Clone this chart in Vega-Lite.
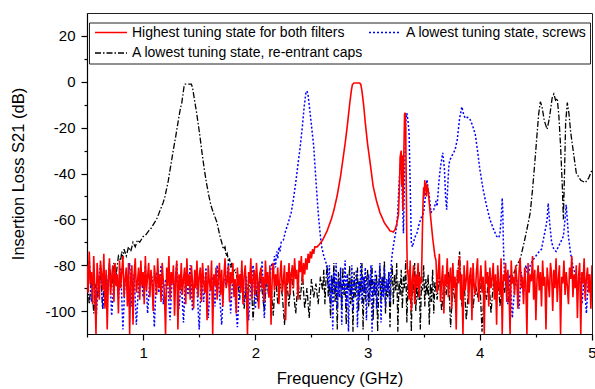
{
"$schema":"https://vega.github.io/schema/vega-lite/v6.json",
"width":505,"height":321,
"autosize":{"type":"none"},
"padding":{"left":87,"top":13,"right":3,"bottom":55},
"config":{"font":"Liberation Sans","view":{"stroke":"#222","strokeWidth":1}},
"data":{"values":[
{"s":"a","f":0.50,"v":-80},{"s":"a","f":0.51,"v":-92},{"s":"a","f":0.52,"v":-74},{"s":"a","f":0.53,"v":-88},{"s":"a","f":0.54,"v":-83},{"s":"a","f":0.55,"v":-97},{"s":"a","f":0.56,"v":-76},{"s":"a","f":0.57,"v":-90},{"s":"a","f":0.58,"v":-110},{"s":"a","f":0.59,"v":-79},
{"s":"a","f":0.60,"v":-86},{"s":"a","f":0.61,"v":-95},{"s":"a","f":0.62,"v":-78},{"s":"a","f":0.63,"v":-84},{"s":"a","f":0.64,"v":-91},{"s":"a","f":0.65,"v":-75},{"s":"a","f":0.66,"v":-99},{"s":"a","f":0.67,"v":-82},{"s":"a","f":0.68,"v":-108},{"s":"a","f":0.69,"v":-87},
{"s":"a","f":0.70,"v":-77},{"s":"a","f":0.71,"v":-93},{"s":"a","f":0.72,"v":-85},{"s":"a","f":0.73,"v":-80},{"s":"a","f":0.74,"v":-96},{"s":"a","f":0.75,"v":-79},{"s":"a","f":0.76,"v":-89},{"s":"a","f":0.77,"v":-84},{"s":"a","f":0.78,"v":-101},{"s":"a","f":0.79,"v":-78},
{"s":"a","f":0.80,"v":-90},{"s":"a","f":0.81,"v":-83},{"s":"a","f":0.82,"v":-76},{"s":"a","f":0.83,"v":-94},{"s":"a","f":0.84,"v":-86},{"s":"a","f":0.85,"v":-81},{"s":"a","f":0.86,"v":-98},{"s":"a","f":0.87,"v":-79},{"s":"a","f":0.88,"v":-110},{"s":"a","f":0.89,"v":-85},
{"s":"a","f":0.90,"v":-80},{"s":"a","f":0.91,"v":-106},{"s":"a","f":0.92,"v":-84},{"s":"a","f":0.93,"v":-77},{"s":"a","f":0.94,"v":-92},{"s":"a","f":0.95,"v":-87},{"s":"a","f":0.96,"v":-81},{"s":"a","f":0.97,"v":-95},{"s":"a","f":0.98,"v":-78},{"s":"a","f":0.99,"v":-89},
{"s":"a","f":1.00,"v":-83},{"s":"a","f":1.01,"v":-97},{"s":"a","f":1.02,"v":-76},{"s":"a","f":1.03,"v":-91},{"s":"a","f":1.04,"v":-85},{"s":"a","f":1.05,"v":-79},{"s":"a","f":1.06,"v":-94},{"s":"a","f":1.07,"v":-82},{"s":"a","f":1.08,"v":-88},{"s":"a","f":1.09,"v":-100},
{"s":"a","f":1.10,"v":-80},{"s":"a","f":1.11,"v":-86},{"s":"a","f":1.12,"v":-93},{"s":"a","f":1.13,"v":-77},{"s":"a","f":1.14,"v":-90},{"s":"a","f":1.15,"v":-84},{"s":"a","f":1.16,"v":-96},{"s":"a","f":1.17,"v":-79},{"s":"a","f":1.18,"v":-87},{"s":"a","f":1.19,"v":-92},
{"s":"a","f":1.20,"v":-110},{"s":"a","f":1.21,"v":-81},{"s":"a","f":1.22,"v":-89},{"s":"a","f":1.23,"v":-76},{"s":"a","f":1.24,"v":-95},{"s":"a","f":1.25,"v":-83},{"s":"a","f":1.26,"v":-88},{"s":"a","f":1.27,"v":-80},{"s":"a","f":1.28,"v":-102},{"s":"a","f":1.29,"v":-85},
{"s":"a","f":1.30,"v":-78},{"s":"a","f":1.31,"v":-108},{"s":"a","f":1.32,"v":-84},{"s":"a","f":1.33,"v":-91},{"s":"a","f":1.34,"v":-79},{"s":"a","f":1.35,"v":-93},{"s":"a","f":1.36,"v":-86},{"s":"a","f":1.37,"v":-81},{"s":"a","f":1.38,"v":-97},{"s":"a","f":1.39,"v":-77},
{"s":"a","f":1.40,"v":-89},{"s":"a","f":1.41,"v":-84},{"s":"a","f":1.42,"v":-95},{"s":"a","f":1.43,"v":-80},{"s":"a","f":1.44,"v":-87},{"s":"a","f":1.45,"v":-99},{"s":"a","f":1.46,"v":-82},{"s":"a","f":1.47,"v":-90},{"s":"a","f":1.48,"v":-78},{"s":"a","f":1.49,"v":-94},
{"s":"a","f":1.50,"v":-85},{"s":"a","f":1.51,"v":-81},{"s":"a","f":1.52,"v":-96},{"s":"a","f":1.53,"v":-79},{"s":"a","f":1.54,"v":-88},{"s":"a","f":1.55,"v":-92},{"s":"a","f":1.56,"v":-83},{"s":"a","f":1.57,"v":-104},{"s":"a","f":1.58,"v":-80},{"s":"a","f":1.59,"v":-87},
{"s":"a","f":1.60,"v":-91},{"s":"a","f":1.61,"v":-78},{"s":"a","f":1.62,"v":-110},{"s":"a","f":1.63,"v":-84},{"s":"a","f":1.64,"v":-89},{"s":"a","f":1.65,"v":-81},{"s":"a","f":1.66,"v":-95},{"s":"a","f":1.67,"v":-86},{"s":"a","f":1.68,"v":-79},{"s":"a","f":1.69,"v":-93},
{"s":"a","f":1.70,"v":-82},{"s":"a","f":1.71,"v":-98},{"s":"a","f":1.72,"v":-85},{"s":"a","f":1.73,"v":-77},{"s":"a","f":1.74,"v":-90},{"s":"a","f":1.75,"v":-87},{"s":"a","f":1.76,"v":-80},{"s":"a","f":1.77,"v":-96},{"s":"a","f":1.78,"v":-83},{"s":"a","f":1.79,"v":-88},
{"s":"a","f":1.80,"v":-79},{"s":"a","f":1.81,"v":-94},{"s":"a","f":1.82,"v":-86},{"s":"a","f":1.83,"v":-101},{"s":"a","f":1.84,"v":-81},{"s":"a","f":1.85,"v":-89},{"s":"a","f":1.86,"v":-84},{"s":"a","f":1.87,"v":-92},{"s":"a","f":1.88,"v":-78},{"s":"a","f":1.89,"v":-97},
{"s":"a","f":1.90,"v":-85},{"s":"a","f":1.91,"v":-80},{"s":"a","f":1.92,"v":-91},{"s":"a","f":1.93,"v":-110},{"s":"a","f":1.94,"v":-83},{"s":"a","f":1.95,"v":-88},{"s":"a","f":1.96,"v":-77},{"s":"a","f":1.97,"v":-95},{"s":"a","f":1.98,"v":-86},{"s":"a","f":1.99,"v":-82},
{"s":"a","f":2.00,"v":-93},{"s":"a","f":2.01,"v":-79},{"s":"a","f":2.02,"v":-87},{"s":"a","f":2.03,"v":-99},{"s":"a","f":2.04,"v":-84},{"s":"a","f":2.05,"v":-81},{"s":"a","f":2.06,"v":-90},{"s":"a","f":2.07,"v":-85},{"s":"a","f":2.08,"v":-96},{"s":"a","f":2.09,"v":-78},
{"s":"a","f":2.10,"v":-88},{"s":"a","f":2.11,"v":-83},{"s":"a","f":2.12,"v":-94},{"s":"a","f":2.13,"v":-80},{"s":"a","f":2.14,"v":-106},{"s":"a","f":2.15,"v":-86},{"s":"a","f":2.16,"v":-79},{"s":"a","f":2.17,"v":-91},{"s":"a","f":2.18,"v":-84},{"s":"a","f":2.19,"v":-89},
{"s":"a","f":2.20,"v":-81},{"s":"a","f":2.21,"v":-97},{"s":"a","f":2.22,"v":-85},{"s":"a","f":2.23,"v":-78},{"s":"a","f":2.24,"v":-92},{"s":"a","f":2.25,"v":-87},{"s":"a","f":2.26,"v":-80},{"s":"a","f":2.27,"v":-104},{"s":"a","f":2.28,"v":-83},{"s":"a","f":2.29,"v":-88},
{"s":"a","f":2.30,"v":-79},{"s":"a","f":2.31,"v":-93},{"s":"a","f":2.32,"v":-84},{"s":"a","f":2.33,"v":-80},{"s":"a","f":2.34,"v":-90},{"s":"a","f":2.35,"v":-77},{"s":"a","f":2.36,"v":-86},{"s":"a","f":2.37,"v":-82},{"s":"a","f":2.38,"v":-95},{"s":"a","f":2.39,"v":-78},
{"s":"a","f":2.40,"v":-83},{"s":"a","f":2.41,"v":-76},{"s":"a","f":2.42,"v":-88},{"s":"a","f":2.43,"v":-79},{"s":"a","f":2.44,"v":-84},
{"s":"a","f":2.45,"v":-77},{"s":"a","f":2.46,"v":-82},{"s":"a","f":2.47,"v":-75},{"s":"a","f":2.48,"v":-79},{"s":"a","f":2.49,"v":-74},{"s":"a","f":2.50,"v":-77},{"s":"a","f":2.51,"v":-73},{"s":"a","f":2.52,"v":-75},{"s":"a","f":2.53,"v":-72},{"s":"a","f":2.55,"v":-72},{"s":"a","f":2.57,"v":-71},{"s":"a","f":2.60,"v":-69},{"s":"a","f":2.64,"v":-65},{"s":"a","f":2.68,"v":-59.5},{"s":"a","f":2.70,"v":-56},{"s":"a","f":2.73,"v":-49.5},{"s":"a","f":2.76,"v":-41},{"s":"a","f":2.78,"v":-34},{"s":"a","f":2.80,"v":-27},{"s":"a","f":2.82,"v":-19},{"s":"a","f":2.84,"v":-10},{"s":"a","f":2.855,"v":-4},{"s":"a","f":2.865,"v":-1.2},{"s":"a","f":2.88,"v":-0.5},{"s":"a","f":2.93,"v":-0.5},{"s":"a","f":2.94,"v":-1.2},{"s":"a","f":2.95,"v":-4},{"s":"a","f":2.965,"v":-10},{"s":"a","f":2.98,"v":-18},{"s":"a","f":3.00,"v":-27},{"s":"a","f":3.03,"v":-38},{"s":"a","f":3.05,"v":-45.6},{"s":"a","f":3.08,"v":-52},{"s":"a","f":3.11,"v":-57},{"s":"a","f":3.15,"v":-61.5},{"s":"a","f":3.20,"v":-65},{"s":"a","f":3.23,"v":-65.5},{"s":"a","f":3.245,"v":-64.5},{"s":"a","f":3.26,"v":-62},{"s":"a","f":3.275,"v":-58},{"s":"a","f":3.285,"v":-45},{"s":"a","f":3.29,"v":-33},{"s":"a","f":3.30,"v":-30},{"s":"a","f":3.305,"v":-45},{"s":"a","f":3.31,"v":-32},{"s":"a","f":3.315,"v":-56},{"s":"a","f":3.32,"v":-40},{"s":"a","f":3.33,"v":-14},{"s":"a","f":3.335,"v":-13.5},{"s":"a","f":3.34,"v":-20},{"s":"a","f":3.345,"v":-45},{"s":"a","f":3.35,"v":-70},{"s":"a","f":3.355,"v":-84},
{"s":"a","f":3.36,"v":-82},{"s":"a","f":3.37,"v":-95},{"s":"a","f":3.38,"v":-78},{"s":"a","f":3.39,"v":-100},{"s":"a","f":3.40,"v":-86},{"s":"a","f":3.41,"v":-80},{"s":"a","f":3.42,"v":-97},{"s":"a","f":3.43,"v":-84},{"s":"a","f":3.44,"v":-90},{"s":"a","f":3.45,"v":-79},{"s":"a","f":3.46,"v":-94},{"s":"a","f":3.47,"v":-85},{"s":"a","f":3.48,"v":-88},{"s":"a","f":3.485,"v":-75},{"s":"a","f":3.49,"v":-62},{"s":"a","f":3.495,"v":-52},{"s":"a","f":3.50,"v":-46},{"s":"a","f":3.505,"v":-50},{"s":"a","f":3.51,"v":-43},{"s":"a","f":3.515,"v":-47},{"s":"a","f":3.52,"v":-44},{"s":"a","f":3.525,"v":-50},{"s":"a","f":3.53,"v":-45},{"s":"a","f":3.54,"v":-47},{"s":"a","f":3.55,"v":-53},{"s":"a","f":3.56,"v":-58},{"s":"a","f":3.57,"v":-63},{"s":"a","f":3.58,"v":-68},{"s":"a","f":3.59,"v":-72},{"s":"a","f":3.60,"v":-76},
{"s":"a","f":3.61,"v":-78},{"s":"a","f":3.62,"v":-92},{"s":"a","f":3.63,"v":-83},{"s":"a","f":3.64,"v":-75},{"s":"a","f":3.65,"v":-96},{"s":"a","f":3.66,"v":-87},{"s":"a","f":3.67,"v":-80},{"s":"a","f":3.68,"v":-101},{"s":"a","f":3.69,"v":-84},{"s":"a","f":3.70,"v":-89},
{"s":"a","f":3.71,"v":-77},{"s":"a","f":3.72,"v":-94},{"s":"a","f":3.73,"v":-86},{"s":"a","f":3.74,"v":-81},{"s":"a","f":3.75,"v":-99},{"s":"a","f":3.76,"v":-79},{"s":"a","f":3.77,"v":-90},{"s":"a","f":3.78,"v":-85},{"s":"a","f":3.79,"v":-108},{"s":"a","f":3.80,"v":-82},
{"s":"a","f":3.81,"v":-88},{"s":"a","f":3.82,"v":-76},{"s":"a","f":3.83,"v":-95},{"s":"a","f":3.84,"v":-84},{"s":"a","f":3.85,"v":-110},{"s":"a","f":3.86,"v":-80},{"s":"a","f":3.87,"v":-91},{"s":"a","f":3.88,"v":-86},{"s":"a","f":3.89,"v":-78},{"s":"a","f":3.90,"v":-97},
{"s":"a","f":3.91,"v":-85},{"s":"a","f":3.92,"v":-81},{"s":"a","f":3.93,"v":-104},{"s":"a","f":3.94,"v":-79},{"s":"a","f":3.95,"v":-89},{"s":"a","f":3.96,"v":-93},{"s":"a","f":3.97,"v":-83},{"s":"a","f":3.98,"v":-77},{"s":"a","f":3.99,"v":-96},{"s":"a","f":4.00,"v":-87},
{"s":"a","f":4.01,"v":-80},{"s":"a","f":4.02,"v":-92},{"s":"a","f":4.03,"v":-85},{"s":"a","f":4.04,"v":-110},{"s":"a","f":4.05,"v":-78},{"s":"a","f":4.06,"v":-88},{"s":"a","f":4.07,"v":-83},{"s":"a","f":4.08,"v":-98},{"s":"a","f":4.09,"v":-81},{"s":"a","f":4.10,"v":-90},
{"s":"a","f":4.11,"v":-86},{"s":"a","f":4.12,"v":-79},{"s":"a","f":4.13,"v":-95},{"s":"a","f":4.14,"v":-84},{"s":"a","f":4.15,"v":-106},{"s":"a","f":4.16,"v":-80},{"s":"a","f":4.17,"v":-89},{"s":"a","f":4.18,"v":-93},{"s":"a","f":4.19,"v":-77},{"s":"a","f":4.20,"v":-110},
{"s":"a","f":4.21,"v":-84},{"s":"a","f":4.22,"v":-87},{"s":"a","f":4.23,"v":-79},{"s":"a","f":4.24,"v":-96},{"s":"a","f":4.25,"v":-82},{"s":"a","f":4.26,"v":-91},{"s":"a","f":4.27,"v":-110},{"s":"a","f":4.28,"v":-78},{"s":"a","f":4.29,"v":-88},{"s":"a","f":4.30,"v":-85},
{"s":"a","f":4.31,"v":-93},{"s":"a","f":4.32,"v":-80},{"s":"a","f":4.33,"v":-86},{"s":"a","f":4.34,"v":-99},{"s":"a","f":4.35,"v":-83},{"s":"a","f":4.36,"v":-77},{"s":"a","f":4.37,"v":-90},{"s":"a","f":4.38,"v":-85},{"s":"a","f":4.39,"v":-97},{"s":"a","f":4.40,"v":-81},
{"s":"a","f":4.41,"v":-88},{"s":"a","f":4.42,"v":-110},{"s":"a","f":4.43,"v":-79},{"s":"a","f":4.44,"v":-92},{"s":"a","f":4.45,"v":-84},{"s":"a","f":4.46,"v":-87},{"s":"a","f":4.47,"v":-76},{"s":"a","f":4.48,"v":-95},{"s":"a","f":4.49,"v":-82},{"s":"a","f":4.50,"v":-104},
{"s":"a","f":4.51,"v":-86},{"s":"a","f":4.52,"v":-80},{"s":"a","f":4.53,"v":-91},{"s":"a","f":4.54,"v":-83},{"s":"a","f":4.55,"v":-98},{"s":"a","f":4.56,"v":-78},{"s":"a","f":4.57,"v":-89},{"s":"a","f":4.58,"v":-85},{"s":"a","f":4.59,"v":-108},{"s":"a","f":4.60,"v":-81},
{"s":"a","f":4.61,"v":-87},{"s":"a","f":4.62,"v":-94},{"s":"a","f":4.63,"v":-79},{"s":"a","f":4.64,"v":-84},{"s":"a","f":4.65,"v":-100},{"s":"a","f":4.66,"v":-82},{"s":"a","f":4.67,"v":-90},{"s":"a","f":4.68,"v":-77},{"s":"a","f":4.69,"v":-96},{"s":"a","f":4.70,"v":-86},
{"s":"a","f":4.71,"v":-80},{"s":"a","f":4.72,"v":-110},{"s":"a","f":4.73,"v":-85},{"s":"a","f":4.74,"v":-88},{"s":"a","f":4.75,"v":-78},{"s":"a","f":4.76,"v":-93},{"s":"a","f":4.77,"v":-83},{"s":"a","f":4.78,"v":-89},{"s":"a","f":4.79,"v":-97},{"s":"a","f":4.80,"v":-81},
{"s":"a","f":4.81,"v":-86},{"s":"a","f":4.82,"v":-76},{"s":"a","f":4.83,"v":-94},{"s":"a","f":4.84,"v":-84},{"s":"a","f":4.85,"v":-90},{"s":"a","f":4.86,"v":-80},{"s":"a","f":4.87,"v":-103},{"s":"a","f":4.88,"v":-85},{"s":"a","f":4.89,"v":-79},{"s":"a","f":4.90,"v":-110},
{"s":"a","f":4.91,"v":-83},{"s":"a","f":4.92,"v":-88},{"s":"a","f":4.93,"v":-77},{"s":"a","f":4.94,"v":-95},{"s":"a","f":4.95,"v":-86},{"s":"a","f":4.96,"v":-81},{"s":"a","f":4.97,"v":-92},{"s":"a","f":4.98,"v":-84},{"s":"a","f":4.99,"v":-99},{"s":"a","f":5.00,"v":-80},

{"s":"c","f":0.50,"v":-84},{"s":"c","f":0.52,"v":-97},{"s":"c","f":0.54,"v":-86},{"s":"c","f":0.56,"v":-101},{"s":"c","f":0.58,"v":-88},{"s":"c","f":0.60,"v":-94},{"s":"c","f":0.62,"v":-83},{"s":"c","f":0.64,"v":-99},{"s":"c","f":0.66,"v":-85},{"s":"c","f":0.68,"v":-92},{"s":"c","f":0.70,"v":-80},{"s":"c","f":0.72,"v":-90},{"s":"c","f":0.74,"v":-79},{"s":"c","f":0.76,"v":-84},{"s":"c","f":0.78,"v":-76},
{"s":"c","f":0.80,"v":-78},{"s":"c","f":0.81,"v":-74},{"s":"c","f":0.82,"v":-77},{"s":"c","f":0.83,"v":-73},{"s":"c","f":0.85,"v":-76},{"s":"c","f":0.87,"v":-72},{"s":"c","f":0.89,"v":-74},{"s":"c","f":0.91,"v":-70},{"s":"c","f":0.93,"v":-72},{"s":"c","f":0.95,"v":-69},{"s":"c","f":0.97,"v":-70},{"s":"c","f":1.00,"v":-67.5},{"s":"c","f":1.02,"v":-67},{"s":"c","f":1.05,"v":-65},{"s":"c","f":1.07,"v":-64},{"s":"c","f":1.10,"v":-61.5},{"s":"c","f":1.12,"v":-60},{"s":"c","f":1.14,"v":-57.5},{"s":"c","f":1.16,"v":-55},{"s":"c","f":1.18,"v":-52.5},{"s":"c","f":1.195,"v":-50},{"s":"c","f":1.21,"v":-46.5},{"s":"c","f":1.225,"v":-43},{"s":"c","f":1.24,"v":-38.4},{"s":"c","f":1.255,"v":-34},{"s":"c","f":1.27,"v":-29.5},{"s":"c","f":1.29,"v":-24},{"s":"c","f":1.305,"v":-19.5},{"s":"c","f":1.32,"v":-15},{"s":"c","f":1.335,"v":-11},{"s":"c","f":1.344,"v":-9.4},{"s":"c","f":1.355,"v":-5.5},{"s":"c","f":1.365,"v":-2},{"s":"c","f":1.375,"v":-1},{"s":"c","f":1.43,"v":-1},{"s":"c","f":1.44,"v":-2.5},{"s":"c","f":1.45,"v":-5.5},{"s":"c","f":1.463,"v":-9.4},{"s":"c","f":1.475,"v":-13},{"s":"c","f":1.49,"v":-18},{"s":"c","f":1.507,"v":-24},{"s":"c","f":1.525,"v":-31},{"s":"c","f":1.546,"v":-38.4},{"s":"c","f":1.566,"v":-44.5},{"s":"c","f":1.587,"v":-50},{"s":"c","f":1.605,"v":-54},{"s":"c","f":1.625,"v":-57},{"s":"c","f":1.656,"v":-61},{"s":"c","f":1.67,"v":-64},{"s":"c","f":1.685,"v":-67.4},{"s":"c","f":1.70,"v":-70},{"s":"c","f":1.715,"v":-73},{"s":"c","f":1.73,"v":-72},{"s":"c","f":1.74,"v":-76},{"s":"c","f":1.75,"v":-75},{"s":"c","f":1.76,"v":-78.5},{"s":"c","f":1.77,"v":-77},{"s":"c","f":1.78,"v":-81},{"s":"c","f":1.79,"v":-79},{"s":"c","f":1.80,"v":-83},{"s":"c","f":1.82,"v":-82},
{"s":"c","f":1.84,"v":-86},{"s":"c","f":1.86,"v":-95},{"s":"c","f":1.88,"v":-82},{"s":"c","f":1.90,"v":-99},{"s":"c","f":1.92,"v":-88},{"s":"c","f":1.94,"v":-92},{"s":"c","f":1.96,"v":-84},{"s":"c","f":1.98,"v":-104},{"s":"c","f":2.00,"v":-87},{"s":"c","f":2.02,"v":-96},{"s":"c","f":2.04,"v":-83},{"s":"c","f":2.06,"v":-91},{"s":"c","f":2.08,"v":-100},{"s":"c","f":2.10,"v":-85},{"s":"c","f":2.12,"v":-94},{"s":"c","f":2.14,"v":-89},{"s":"c","f":2.16,"v":-102},{"s":"c","f":2.18,"v":-84},{"s":"c","f":2.20,"v":-97},{"s":"c","f":2.22,"v":-88},{"s":"c","f":2.24,"v":-93},{"s":"c","f":2.26,"v":-106},{"s":"c","f":2.28,"v":-86},{"s":"c","f":2.30,"v":-98},{"s":"c","f":2.32,"v":-83},{"s":"c","f":2.34,"v":-92},{"s":"c","f":2.36,"v":-101},{"s":"c","f":2.38,"v":-87},{"s":"c","f":2.40,"v":-95},{"s":"c","f":2.42,"v":-84},{"s":"c","f":2.44,"v":-99},{"s":"c","f":2.46,"v":-90},{"s":"c","f":2.48,"v":-103},{"s":"c","f":2.50,"v":-86},{"s":"c","f":2.52,"v":-94},{"s":"c","f":2.54,"v":-88},{"s":"c","f":2.56,"v":-97},{"s":"c","f":2.58,"v":-85},
{"s":"c","f":2.60,"v":-91},{"s":"c","f":2.61,"v":-82},{"s":"c","f":2.62,"v":-97},{"s":"c","f":2.63,"v":-86},{"s":"c","f":2.64,"v":-80},{"s":"c","f":2.65,"v":-94},{"s":"c","f":2.66,"v":-88},{"s":"c","f":2.67,"v":-103},{"s":"c","f":2.68,"v":-84},{"s":"c","f":2.69,"v":-92},
{"s":"c","f":2.70,"v":-79},{"s":"c","f":2.71,"v":-96},{"s":"c","f":2.72,"v":-87},{"s":"c","f":2.73,"v":-108},{"s":"c","f":2.74,"v":-83},{"s":"c","f":2.75,"v":-90},{"s":"c","f":2.76,"v":-85},{"s":"c","f":2.77,"v":-99},{"s":"c","f":2.78,"v":-81},{"s":"c","f":2.79,"v":-93},
{"s":"c","f":2.80,"v":-88},{"s":"c","f":2.81,"v":-106},{"s":"c","f":2.82,"v":-84},{"s":"c","f":2.83,"v":-91},{"s":"c","f":2.84,"v":-80},{"s":"c","f":2.85,"v":-97},{"s":"c","f":2.86,"v":-86},{"s":"c","f":2.87,"v":-109},{"s":"c","f":2.88,"v":-83},{"s":"c","f":2.89,"v":-94},
{"s":"c","f":2.90,"v":-89},{"s":"c","f":2.91,"v":-81},{"s":"c","f":2.92,"v":-100},{"s":"c","f":2.93,"v":-87},{"s":"c","f":2.94,"v":-92},{"s":"c","f":2.95,"v":-79},{"s":"c","f":2.96,"v":-108},{"s":"c","f":2.97,"v":-85},{"s":"c","f":2.98,"v":-95},{"s":"c","f":2.99,"v":-88},
{"s":"c","f":3.00,"v":-82},{"s":"c","f":3.01,"v":-98},{"s":"c","f":3.02,"v":-86},{"s":"c","f":3.03,"v":-91},{"s":"c","f":3.04,"v":-80},{"s":"c","f":3.05,"v":-104},{"s":"c","f":3.06,"v":-87},{"s":"c","f":3.07,"v":-93},{"s":"c","f":3.08,"v":-84},{"s":"c","f":3.09,"v":-109},
{"s":"c","f":3.10,"v":-89},{"s":"c","f":3.11,"v":-81},{"s":"c","f":3.12,"v":-96},{"s":"c","f":3.13,"v":-85},{"s":"c","f":3.14,"v":-92},{"s":"c","f":3.15,"v":-78},{"s":"c","f":3.16,"v":-101},{"s":"c","f":3.17,"v":-88},{"s":"c","f":3.18,"v":-94},{"s":"c","f":3.19,"v":-83},
{"s":"c","f":3.20,"v":-107},{"s":"c","f":3.21,"v":-86},{"s":"c","f":3.22,"v":-80},{"s":"c","f":3.23,"v":-97},{"s":"c","f":3.24,"v":-84},{"s":"c","f":3.25,"v":-91},{"s":"c","f":3.26,"v":-79},{"s":"c","f":3.27,"v":-109},{"s":"c","f":3.28,"v":-87},{"s":"c","f":3.29,"v":-93},
{"s":"c","f":3.30,"v":-82},{"s":"c","f":3.31,"v":-99},{"s":"c","f":3.32,"v":-85},{"s":"c","f":3.33,"v":-90},{"s":"c","f":3.34,"v":-78},{"s":"c","f":3.35,"v":-105},{"s":"c","f":3.36,"v":-88},{"s":"c","f":3.37,"v":-94},{"s":"c","f":3.38,"v":-81},{"s":"c","f":3.39,"v":-109},
{"s":"c","f":3.40,"v":-86},{"s":"c","f":3.41,"v":-92},{"s":"c","f":3.42,"v":-79},{"s":"c","f":3.43,"v":-100},{"s":"c","f":3.44,"v":-87},{"s":"c","f":3.45,"v":-95},{"s":"c","f":3.46,"v":-83},{"s":"c","f":3.47,"v":-108},{"s":"c","f":3.48,"v":-89},{"s":"c","f":3.49,"v":-91},
{"s":"c","f":3.50,"v":-80},{"s":"c","f":3.51,"v":-98},{"s":"c","f":3.52,"v":-86},{"s":"c","f":3.53,"v":-93},{"s":"c","f":3.54,"v":-84},{"s":"c","f":3.55,"v":-106},{"s":"c","f":3.56,"v":-88},{"s":"c","f":3.57,"v":-96},{"s":"c","f":3.58,"v":-82},{"s":"c","f":3.59,"v":-101},
{"s":"c","f":3.60,"v":-87},
{"s":"c","f":3.62,"v":-95},{"s":"c","f":3.64,"v":-84},{"s":"c","f":3.66,"v":-100},{"s":"c","f":3.68,"v":-88},{"s":"c","f":3.70,"v":-93},{"s":"c","f":3.72,"v":-83},{"s":"c","f":3.74,"v":-107},{"s":"c","f":3.76,"v":-89},{"s":"c","f":3.78,"v":-96},{"s":"c","f":3.80,"v":-85},{"s":"c","f":3.82,"v":-74},{"s":"c","f":3.84,"v":-98},{"s":"c","f":3.86,"v":-87},{"s":"c","f":3.88,"v":-104},{"s":"c","f":3.90,"v":-90},{"s":"c","f":3.92,"v":-84},{"s":"c","f":3.94,"v":-99},{"s":"c","f":3.96,"v":-88},{"s":"c","f":3.98,"v":-94},{"s":"c","f":4.00,"v":-86},{"s":"c","f":4.02,"v":-109},{"s":"c","f":4.04,"v":-89},{"s":"c","f":4.06,"v":-95},{"s":"c","f":4.08,"v":-85},{"s":"c","f":4.10,"v":-101},{"s":"c","f":4.12,"v":-88},{"s":"c","f":4.14,"v":-93},{"s":"c","f":4.16,"v":-84},{"s":"c","f":4.18,"v":-98},{"s":"c","f":4.20,"v":-87},{"s":"c","f":4.22,"v":-92},{"s":"c","f":4.24,"v":-83},{"s":"c","f":4.26,"v":-96},{"s":"c","f":4.28,"v":-86},
{"s":"c","f":4.30,"v":-84},{"s":"c","f":4.33,"v":-80},{"s":"c","f":4.36,"v":-77.5},{"s":"c","f":4.40,"v":-69},{"s":"c","f":4.43,"v":-62},{"s":"c","f":4.45,"v":-57},{"s":"c","f":4.47,"v":-47},{"s":"c","f":4.49,"v":-35.5},{"s":"c","f":4.51,"v":-23},{"s":"c","f":4.525,"v":-14},{"s":"c","f":4.54,"v":-8.7},{"s":"c","f":4.555,"v":-11},{"s":"c","f":4.575,"v":-17},{"s":"c","f":4.60,"v":-20.7},{"s":"c","f":4.62,"v":-16},{"s":"c","f":4.645,"v":-7},{"s":"c","f":4.66,"v":-5.3},{"s":"c","f":4.675,"v":-8},{"s":"c","f":4.69,"v":-7.2},{"s":"c","f":4.705,"v":-15},{"s":"c","f":4.72,"v":-28},{"s":"c","f":4.735,"v":-45},{"s":"c","f":4.745,"v":-60},{"s":"c","f":4.755,"v":-40},{"s":"c","f":4.765,"v":-18},{"s":"c","f":4.78,"v":-9.1},{"s":"c","f":4.795,"v":-14},{"s":"c","f":4.81,"v":-22},{"s":"c","f":4.835,"v":-31},{"s":"c","f":4.86,"v":-39.8},{"s":"c","f":4.90,"v":-43},{"s":"c","f":4.94,"v":-44},{"s":"c","f":4.97,"v":-42},{"s":"c","f":5.00,"v":-38.4},

{"s":"b","f":0.50,"v":-86},{"s":"b","f":0.52,"v":-78},{"s":"b","f":0.54,"v":-96},{"s":"b","f":0.56,"v":-84},{"s":"b","f":0.58,"v":-104},{"s":"b","f":0.60,"v":-88},{"s":"b","f":0.62,"v":-80},{"s":"b","f":0.64,"v":-99},{"s":"b","f":0.66,"v":-85},{"s":"b","f":0.68,"v":-92},{"s":"b","f":0.70,"v":-79},{"s":"b","f":0.72,"v":-102},{"s":"b","f":0.74,"v":-87},{"s":"b","f":0.76,"v":-83},{"s":"b","f":0.78,"v":-95},{"s":"b","f":0.80,"v":-81},{"s":"b","f":0.82,"v":-108},{"s":"b","f":0.84,"v":-86},{"s":"b","f":0.86,"v":-90},{"s":"b","f":0.88,"v":-79},{"s":"b","f":0.90,"v":-98},{"s":"b","f":0.92,"v":-84},{"s":"b","f":0.94,"v":-106},{"s":"b","f":0.96,"v":-88},{"s":"b","f":0.98,"v":-82},{"s":"b","f":1.00,"v":-94},{"s":"b","f":1.02,"v":-80},{"s":"b","f":1.04,"v":-101},{"s":"b","f":1.06,"v":-87},{"s":"b","f":1.08,"v":-85},{"s":"b","f":1.10,"v":-107},{"s":"b","f":1.12,"v":-83},{"s":"b","f":1.14,"v":-92},{"s":"b","f":1.16,"v":-80},{"s":"b","f":1.18,"v":-97},{"s":"b","f":1.20,"v":-86},{"s":"b","f":1.22,"v":-89},{"s":"b","f":1.24,"v":-104},{"s":"b","f":1.26,"v":-84},{"s":"b","f":1.28,"v":-91},{"s":"b","f":1.30,"v":-79},{"s":"b","f":1.32,"v":-99},{"s":"b","f":1.34,"v":-87},{"s":"b","f":1.36,"v":-105},{"s":"b","f":1.38,"v":-83},{"s":"b","f":1.40,"v":-93},{"s":"b","f":1.42,"v":-80},{"s":"b","f":1.44,"v":-100},{"s":"b","f":1.46,"v":-86},{"s":"b","f":1.48,"v":-90},{"s":"b","f":1.50,"v":-108},{"s":"b","f":1.52,"v":-84},{"s":"b","f":1.54,"v":-96},{"s":"b","f":1.56,"v":-81},{"s":"b","f":1.58,"v":-103},{"s":"b","f":1.60,"v":-88},{"s":"b","f":1.62,"v":-85},{"s":"b","f":1.64,"v":-98},{"s":"b","f":1.66,"v":-80},{"s":"b","f":1.68,"v":-92},{"s":"b","f":1.70,"v":-106},{"s":"b","f":1.72,"v":-86},{"s":"b","f":1.74,"v":-89},{"s":"b","f":1.76,"v":-79},{"s":"b","f":1.78,"v":-101},{"s":"b","f":1.80,"v":-84},{"s":"b","f":1.82,"v":-94},{"s":"b","f":1.84,"v":-107},{"s":"b","f":1.86,"v":-87},{"s":"b","f":1.88,"v":-82},{"s":"b","f":1.90,"v":-97},{"s":"b","f":1.92,"v":-85},{"s":"b","f":1.94,"v":-104},{"s":"b","f":1.96,"v":-89},{"s":"b","f":1.98,"v":-80},{"s":"b","f":2.00,"v":-99},{"s":"b","f":2.02,"v":-86},{"s":"b","f":2.04,"v":-92},{"s":"b","f":2.06,"v":-78},{"s":"b","f":2.08,"v":-103},{"s":"b","f":2.10,"v":-84},{"s":"b","f":2.12,"v":-90},{"s":"b","f":2.14,"v":-81},
{"s":"b","f":2.15,"v":-79},{"s":"b","f":2.16,"v":-84},{"s":"b","f":2.17,"v":-76},{"s":"b","f":2.18,"v":-81},{"s":"b","f":2.19,"v":-74},{"s":"b","f":2.20,"v":-77},{"s":"b","f":2.21,"v":-72},{"s":"b","f":2.22,"v":-74},{"s":"b","f":2.23,"v":-70},{"s":"b","f":2.25,"v":-69},{"s":"b","f":2.27,"v":-65},{"s":"b","f":2.29,"v":-62},{"s":"b","f":2.32,"v":-57},{"s":"b","f":2.34,"v":-51},{"s":"b","f":2.36,"v":-44},{"s":"b","f":2.38,"v":-36},{"s":"b","f":2.40,"v":-28.3},{"s":"b","f":2.42,"v":-19},{"s":"b","f":2.435,"v":-11},{"s":"b","f":2.45,"v":-5},{"s":"b","f":2.458,"v":-4},{"s":"b","f":2.468,"v":-5},{"s":"b","f":2.48,"v":-10},{"s":"b","f":2.50,"v":-19},{"s":"b","f":2.52,"v":-28},{"s":"b","f":2.54,"v":-43},{"s":"b","f":2.56,"v":-57},{"s":"b","f":2.575,"v":-65},{"s":"b","f":2.59,"v":-71.7},{"s":"b","f":2.61,"v":-76},{"s":"b","f":2.63,"v":-79},{"s":"b","f":2.64,"v":-82},
{"s":"b","f":2.65,"v":-90},{"s":"b","f":2.66,"v":-80},{"s":"b","f":2.67,"v":-97},{"s":"b","f":2.68,"v":-85},{"s":"b","f":2.69,"v":-108},{"s":"b","f":2.70,"v":-83},{"s":"b","f":2.71,"v":-92},{"s":"b","f":2.72,"v":-79},{"s":"b","f":2.73,"v":-99},{"s":"b","f":2.74,"v":-87},{"s":"b","f":2.75,"v":-94},{"s":"b","f":2.76,"v":-81},{"s":"b","f":2.77,"v":-106},{"s":"b","f":2.78,"v":-86},{"s":"b","f":2.79,"v":-91},{"s":"b","f":2.80,"v":-78},{"s":"b","f":2.81,"v":-98},{"s":"b","f":2.82,"v":-84},{"s":"b","f":2.83,"v":-109},{"s":"b","f":2.84,"v":-88},{"s":"b","f":2.85,"v":-93},{"s":"b","f":2.86,"v":-80},{"s":"b","f":2.87,"v":-100},{"s":"b","f":2.88,"v":-86},{"s":"b","f":2.89,"v":-90},{"s":"b","f":2.90,"v":-82},{"s":"b","f":2.91,"v":-107},{"s":"b","f":2.92,"v":-87},{"s":"b","f":2.93,"v":-95},{"s":"b","f":2.94,"v":-79},{"s":"b","f":2.95,"v":-97},{"s":"b","f":2.96,"v":-85},{"s":"b","f":2.97,"v":-92},{"s":"b","f":2.98,"v":-81},{"s":"b","f":2.99,"v":-104},{"s":"b","f":3.00,"v":-88},{"s":"b","f":3.01,"v":-84},{"s":"b","f":3.02,"v":-96},{"s":"b","f":3.03,"v":-80},{"s":"b","f":3.04,"v":-109},{"s":"b","f":3.05,"v":-86},{"s":"b","f":3.06,"v":-93},{"s":"b","f":3.07,"v":-82},{"s":"b","f":3.08,"v":-99},{"s":"b","f":3.09,"v":-87},{"s":"b","f":3.10,"v":-90},{"s":"b","f":3.11,"v":-79},{"s":"b","f":3.12,"v":-105},{"s":"b","f":3.13,"v":-85},{"s":"b","f":3.14,"v":-94},{"s":"b","f":3.15,"v":-81},{"s":"b","f":3.16,"v":-98},{"s":"b","f":3.17,"v":-86},{"s":"b","f":3.18,"v":-91},{"s":"b","f":3.19,"v":-83},{"s":"b","f":3.20,"v":-96},
{"s":"b","f":3.21,"v":-80},{"s":"b","f":3.22,"v":-75},{"s":"b","f":3.235,"v":-70},{"s":"b","f":3.25,"v":-66},{"s":"b","f":3.26,"v":-63},{"s":"b","f":3.27,"v":-56},{"s":"b","f":3.28,"v":-45},{"s":"b","f":3.29,"v":-37},{"s":"b","f":3.30,"v":-34},{"s":"b","f":3.31,"v":-50},{"s":"b","f":3.32,"v":-66},{"s":"b","f":3.33,"v":-40},{"s":"b","f":3.34,"v":-18},{"s":"b","f":3.35,"v":-13.7},{"s":"b","f":3.36,"v":-17},{"s":"b","f":3.37,"v":-22},{"s":"b","f":3.38,"v":-45},{"s":"b","f":3.39,"v":-70},{"s":"b","f":3.40,"v":-72},{"s":"b","f":3.42,"v":-68},{"s":"b","f":3.44,"v":-66},{"s":"b","f":3.46,"v":-62},{"s":"b","f":3.48,"v":-59},{"s":"b","f":3.50,"v":-57},{"s":"b","f":3.515,"v":-50},{"s":"b","f":3.53,"v":-42.7},{"s":"b","f":3.54,"v":-47},{"s":"b","f":3.55,"v":-50},{"s":"b","f":3.565,"v":-57},{"s":"b","f":3.58,"v":-56},{"s":"b","f":3.59,"v":-55.8},{"s":"b","f":3.61,"v":-52},{"s":"b","f":3.62,"v":-54.3},{"s":"b","f":3.635,"v":-44},{"s":"b","f":3.65,"v":-37},{"s":"b","f":3.67,"v":-31},{"s":"b","f":3.685,"v":-38},{"s":"b","f":3.695,"v":-50},{"s":"b","f":3.705,"v":-55.8},{"s":"b","f":3.715,"v":-45},{"s":"b","f":3.725,"v":-36},{"s":"b","f":3.735,"v":-34},{"s":"b","f":3.755,"v":-32},{"s":"b","f":3.78,"v":-29.7},{"s":"b","f":3.80,"v":-25},{"s":"b","f":3.82,"v":-16},{"s":"b","f":3.84,"v":-10.9},{"s":"b","f":3.855,"v":-14},{"s":"b","f":3.87,"v":-15.9},{"s":"b","f":3.89,"v":-15.5},{"s":"b","f":3.91,"v":-16},{"s":"b","f":3.935,"v":-19},{"s":"b","f":3.96,"v":-23},{"s":"b","f":3.98,"v":-30},{"s":"b","f":4.00,"v":-38},{"s":"b","f":4.03,"v":-47},{"s":"b","f":4.06,"v":-54},{"s":"b","f":4.09,"v":-60},{"s":"b","f":4.12,"v":-64},{"s":"b","f":4.15,"v":-67.4},{"s":"b","f":4.17,"v":-68},{"s":"b","f":4.18,"v":-66},{"s":"b","f":4.19,"v":-60},{"s":"b","f":4.20,"v":-50.7},{"s":"b","f":4.205,"v":-56},{"s":"b","f":4.21,"v":-70},{"s":"b","f":4.22,"v":-85},
{"s":"b","f":4.23,"v":-88},{"s":"b","f":4.25,"v":-97},{"s":"b","f":4.27,"v":-84},{"s":"b","f":4.29,"v":-103},{"s":"b","f":4.31,"v":-90},{"s":"b","f":4.33,"v":-86},{"s":"b","f":4.35,"v":-99},{"s":"b","f":4.37,"v":-83},{"s":"b","f":4.39,"v":-93},{"s":"b","f":4.41,"v":-80},{"s":"b","f":4.43,"v":-85},{"s":"b","f":4.45,"v":-80},
{"s":"b","f":4.47,"v":-78},{"s":"b","f":4.50,"v":-76},{"s":"b","f":4.53,"v":-74},{"s":"b","f":4.55,"v":-73},{"s":"b","f":4.57,"v":-68},{"s":"b","f":4.59,"v":-63},{"s":"b","f":4.60,"v":-60},{"s":"b","f":4.61,"v":-53},{"s":"b","f":4.62,"v":-60},{"s":"b","f":4.64,"v":-70},{"s":"b","f":4.66,"v":-73},{"s":"b","f":4.68,"v":-74},{"s":"b","f":4.70,"v":-72},{"s":"b","f":4.72,"v":-70},{"s":"b","f":4.745,"v":-67.4},{"s":"b","f":4.76,"v":-60},{"s":"b","f":4.77,"v":-53.6},{"s":"b","f":4.78,"v":-60},{"s":"b","f":4.79,"v":-67.4},{"s":"b","f":4.81,"v":-75},{"s":"b","f":4.83,"v":-80.4},{"s":"b","f":4.85,"v":-84},
{"s":"b","f":4.87,"v":-90},{"s":"b","f":4.89,"v":-83},{"s":"b","f":4.91,"v":-97},{"s":"b","f":4.93,"v":-86},{"s":"b","f":4.95,"v":-101},{"s":"b","f":4.97,"v":-84},{"s":"b","f":4.99,"v":-92},{"s":"b","f":5.00,"v":-88}
]},
"encoding":{
"x":{"field":"f","type":"quantitative","scale":{"domain":[0.5,5],"nice":false,"zero":false},
"axis":{"title":"Frequency (GHz)","grid":false,"values":[0.5,1,1.5,2,2.5,3,3.5,4,4.5,5],
"labelExpr":"datum.value % 1 == 0 ? '' + datum.value : ''",
"tickSize":{"condition":{"test":"datum.value % 1 != 0","value":3},"value":6},
"labelFontSize":15,"titleFontSize":16.5,"titleFontWeight":"normal","labelColor":"#000","titleColor":"#000",
"domainColor":"#000","tickColor":"#000","domainWidth":1.2,"tickWidth":1.2,"labelPadding":5,"titlePadding":10,"labelFlush":false,"labelOverlap":false}},
"y":{"field":"v","type":"quantitative","scale":{"domain":[-110,30],"nice":false,"zero":false},
"axis":{"title":"Insertion Loss S21 (dB)","grid":false,"values":[-100,-90,-80,-70,-60,-50,-40,-30,-20,-10,0,10,20],
"labelExpr":"datum.value % 20 == 0 ? '' + datum.value : ''",
"tickSize":{"condition":{"test":"datum.value % 20 != 0","value":3},"value":6},
"labelFontSize":15,"titleFontSize":16.5,"titleFontWeight":"normal","labelColor":"#000","titleColor":"#000",
"domainColor":"#000","tickColor":"#000","domainWidth":1.2,"tickWidth":1.2,"labelPadding":6,"titlePadding":18,"labelOverlap":false}},
"color":{"field":"s","type":"nominal","scale":{"domain":["a","b","c"],"range":["#FF0000","#0000FF","#000000"]},
"legend":{"title":null,"orient":"none","legendX":2,"legendY":9.5,"direction":"horizontal","columns":2,
"labelExpr":"datum.label == 'a' ? 'Highest tuning state for both filters' : datum.label == 'b' ? 'A lowest tuning state, screws' : 'A lowest tuning state, re-entrant caps'",
"labelFontSize":14,"labelColor":"#000","labelLimit":400,"symbolType":"M-1,0L7,0","symbolSize":64,"symbolStrokeWidth":1.5,
"strokeColor":"#222","fillColor":"#fff","padding":3,"columnPadding":2,"rowPadding":6.5,"labelOffset":26}},
"strokeDash":{"field":"s","type":"nominal","scale":{"domain":["a","b","c"],"range":[[1,0],[2,2],[6,2,1.5,2]]},
"legend":{"title":null,"orient":"none","legendX":2,"legendY":9.5,"direction":"horizontal","columns":2,
"labelExpr":"datum.label == 'a' ? 'Highest tuning state for both filters' : datum.label == 'b' ? 'A lowest tuning state, screws' : 'A lowest tuning state, re-entrant caps'",
"labelFontSize":14,"labelColor":"#000","labelLimit":400,"symbolType":"M-1,0L7,0","symbolSize":64,"symbolStrokeWidth":1.5,
"strokeColor":"#222","fillColor":"#fff","padding":3,"columnPadding":2,"rowPadding":6.5,"labelOffset":26}}
},
"layer":[
{"transform":[{"filter":"datum.s == 'c'"}],"mark":{"type":"line","clip":true,"strokeWidth":1.3}},
{"transform":[{"filter":"datum.s == 'b'"}],"mark":{"type":"line","clip":true,"strokeWidth":1.5}},
{"transform":[{"filter":"datum.s == 'a'"}],"mark":{"type":"line","clip":true,"strokeWidth":1.6}}
]
}
